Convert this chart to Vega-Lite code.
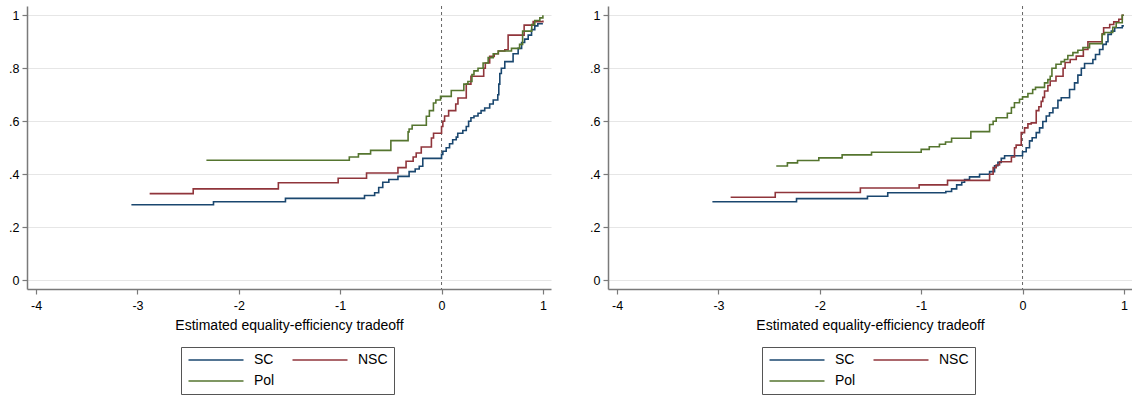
{
  "$schema": "https://vega.github.io/schema/vega-lite/v6.json",
  "padding": {"left": 8, "top": 5, "right": 0, "bottom": 0},
  "background": "white",
  "datasets": {
    "cdf": [
      {"panel": "A", "group": "SC", "x": -3.06, "y": 0.285},
      {"panel": "A", "group": "SC", "x": -2.25, "y": 0.296},
      {"panel": "A", "group": "SC", "x": -1.54, "y": 0.309},
      {"panel": "A", "group": "SC", "x": -0.76, "y": 0.32},
      {"panel": "A", "group": "SC", "x": -0.66, "y": 0.33},
      {"panel": "A", "group": "SC", "x": -0.62, "y": 0.35},
      {"panel": "A", "group": "SC", "x": -0.58, "y": 0.37},
      {"panel": "A", "group": "SC", "x": -0.52, "y": 0.38},
      {"panel": "A", "group": "SC", "x": -0.43, "y": 0.392},
      {"panel": "A", "group": "SC", "x": -0.32, "y": 0.41},
      {"panel": "A", "group": "SC", "x": -0.26, "y": 0.42},
      {"panel": "A", "group": "SC", "x": -0.22, "y": 0.43},
      {"panel": "A", "group": "SC", "x": -0.185, "y": 0.46},
      {"panel": "A", "group": "SC", "x": 0.0, "y": 0.475},
      {"panel": "A", "group": "SC", "x": 0.013, "y": 0.487},
      {"panel": "A", "group": "SC", "x": 0.046, "y": 0.5},
      {"panel": "A", "group": "SC", "x": 0.079, "y": 0.515},
      {"panel": "A", "group": "SC", "x": 0.11, "y": 0.53},
      {"panel": "A", "group": "SC", "x": 0.145, "y": 0.54},
      {"panel": "A", "group": "SC", "x": 0.16, "y": 0.555},
      {"panel": "A", "group": "SC", "x": 0.21, "y": 0.565},
      {"panel": "A", "group": "SC", "x": 0.244, "y": 0.58},
      {"panel": "A", "group": "SC", "x": 0.267, "y": 0.6},
      {"panel": "A", "group": "SC", "x": 0.29, "y": 0.613},
      {"panel": "A", "group": "SC", "x": 0.32, "y": 0.62},
      {"panel": "A", "group": "SC", "x": 0.36, "y": 0.63},
      {"panel": "A", "group": "SC", "x": 0.39, "y": 0.64},
      {"panel": "A", "group": "SC", "x": 0.426, "y": 0.65},
      {"panel": "A", "group": "SC", "x": 0.475, "y": 0.665},
      {"panel": "A", "group": "SC", "x": 0.51, "y": 0.68},
      {"panel": "A", "group": "SC", "x": 0.555, "y": 0.7},
      {"panel": "A", "group": "SC", "x": 0.565, "y": 0.74},
      {"panel": "A", "group": "SC", "x": 0.575, "y": 0.78},
      {"panel": "A", "group": "SC", "x": 0.59, "y": 0.8},
      {"panel": "A", "group": "SC", "x": 0.624, "y": 0.825},
      {"panel": "A", "group": "SC", "x": 0.706, "y": 0.855},
      {"panel": "A", "group": "SC", "x": 0.756, "y": 0.875},
      {"panel": "A", "group": "SC", "x": 0.79, "y": 0.897},
      {"panel": "A", "group": "SC", "x": 0.82, "y": 0.91},
      {"panel": "A", "group": "SC", "x": 0.855, "y": 0.925},
      {"panel": "A", "group": "SC", "x": 0.888, "y": 0.946},
      {"panel": "A", "group": "SC", "x": 0.92, "y": 0.96},
      {"panel": "A", "group": "SC", "x": 0.95, "y": 0.968},
      {"panel": "A", "group": "SC", "x": 1.0, "y": 0.968},

      {"panel": "A", "group": "NSC", "x": -2.88, "y": 0.327},
      {"panel": "A", "group": "NSC", "x": -2.45, "y": 0.345},
      {"panel": "A", "group": "NSC", "x": -1.61, "y": 0.368},
      {"panel": "A", "group": "NSC", "x": -1.02, "y": 0.385},
      {"panel": "A", "group": "NSC", "x": -0.74, "y": 0.405},
      {"panel": "A", "group": "NSC", "x": -0.43, "y": 0.425},
      {"panel": "A", "group": "NSC", "x": -0.35, "y": 0.449},
      {"panel": "A", "group": "NSC", "x": -0.28, "y": 0.465},
      {"panel": "A", "group": "NSC", "x": -0.25, "y": 0.48},
      {"panel": "A", "group": "NSC", "x": -0.2, "y": 0.503},
      {"panel": "A", "group": "NSC", "x": -0.1, "y": 0.537},
      {"panel": "A", "group": "NSC", "x": -0.079, "y": 0.555},
      {"panel": "A", "group": "NSC", "x": 0.0, "y": 0.58},
      {"panel": "A", "group": "NSC", "x": 0.013, "y": 0.6},
      {"panel": "A", "group": "NSC", "x": 0.03, "y": 0.62},
      {"panel": "A", "group": "NSC", "x": 0.07, "y": 0.64},
      {"panel": "A", "group": "NSC", "x": 0.14, "y": 0.665},
      {"panel": "A", "group": "NSC", "x": 0.162, "y": 0.688},
      {"panel": "A", "group": "NSC", "x": 0.244, "y": 0.74},
      {"panel": "A", "group": "NSC", "x": 0.29, "y": 0.77},
      {"panel": "A", "group": "NSC", "x": 0.416, "y": 0.8},
      {"panel": "A", "group": "NSC", "x": 0.432, "y": 0.82},
      {"panel": "A", "group": "NSC", "x": 0.475, "y": 0.845},
      {"panel": "A", "group": "NSC", "x": 0.52, "y": 0.855},
      {"panel": "A", "group": "NSC", "x": 0.56, "y": 0.865},
      {"panel": "A", "group": "NSC", "x": 0.624, "y": 0.87},
      {"panel": "A", "group": "NSC", "x": 0.657, "y": 0.925},
      {"panel": "A", "group": "NSC", "x": 0.815, "y": 0.963},
      {"panel": "A", "group": "NSC", "x": 0.904, "y": 0.976},
      {"panel": "A", "group": "NSC", "x": 1.0, "y": 0.98},

      {"panel": "A", "group": "Pol", "x": -2.32, "y": 0.453},
      {"panel": "A", "group": "Pol", "x": -0.91, "y": 0.465},
      {"panel": "A", "group": "Pol", "x": -0.82, "y": 0.477},
      {"panel": "A", "group": "Pol", "x": -0.7, "y": 0.49},
      {"panel": "A", "group": "Pol", "x": -0.5, "y": 0.527},
      {"panel": "A", "group": "Pol", "x": -0.33, "y": 0.56},
      {"panel": "A", "group": "Pol", "x": -0.32, "y": 0.571},
      {"panel": "A", "group": "Pol", "x": -0.29, "y": 0.585},
      {"panel": "A", "group": "Pol", "x": -0.15, "y": 0.619},
      {"panel": "A", "group": "Pol", "x": -0.12, "y": 0.64},
      {"panel": "A", "group": "Pol", "x": -0.08, "y": 0.669},
      {"panel": "A", "group": "Pol", "x": -0.056, "y": 0.68},
      {"panel": "A", "group": "Pol", "x": -0.01, "y": 0.694},
      {"panel": "A", "group": "Pol", "x": 0.096, "y": 0.716},
      {"panel": "A", "group": "Pol", "x": 0.22, "y": 0.74},
      {"panel": "A", "group": "Pol", "x": 0.26, "y": 0.75},
      {"panel": "A", "group": "Pol", "x": 0.3, "y": 0.776},
      {"panel": "A", "group": "Pol", "x": 0.32, "y": 0.79},
      {"panel": "A", "group": "Pol", "x": 0.36, "y": 0.8},
      {"panel": "A", "group": "Pol", "x": 0.41, "y": 0.82},
      {"panel": "A", "group": "Pol", "x": 0.46, "y": 0.84},
      {"panel": "A", "group": "Pol", "x": 0.51, "y": 0.855},
      {"panel": "A", "group": "Pol", "x": 0.56, "y": 0.865},
      {"panel": "A", "group": "Pol", "x": 0.69, "y": 0.875},
      {"panel": "A", "group": "Pol", "x": 0.77, "y": 0.89},
      {"panel": "A", "group": "Pol", "x": 0.8, "y": 0.94},
      {"panel": "A", "group": "Pol", "x": 0.89, "y": 0.965},
      {"panel": "A", "group": "Pol", "x": 0.92, "y": 0.98},
      {"panel": "A", "group": "Pol", "x": 0.97, "y": 0.99},
      {"panel": "A", "group": "Pol", "x": 1.0, "y": 1.0},

      {"panel": "B", "group": "SC", "x": -3.06, "y": 0.296},
      {"panel": "B", "group": "SC", "x": -2.23, "y": 0.308},
      {"panel": "B", "group": "SC", "x": -1.53, "y": 0.317},
      {"panel": "B", "group": "SC", "x": -1.33, "y": 0.33},
      {"panel": "B", "group": "SC", "x": -0.757, "y": 0.335},
      {"panel": "B", "group": "SC", "x": -0.7, "y": 0.345},
      {"panel": "B", "group": "SC", "x": -0.65, "y": 0.36},
      {"panel": "B", "group": "SC", "x": -0.6, "y": 0.37},
      {"panel": "B", "group": "SC", "x": -0.572, "y": 0.38},
      {"panel": "B", "group": "SC", "x": -0.523, "y": 0.39},
      {"panel": "B", "group": "SC", "x": -0.424, "y": 0.4},
      {"panel": "B", "group": "SC", "x": -0.325, "y": 0.41},
      {"panel": "B", "group": "SC", "x": -0.276, "y": 0.432},
      {"panel": "B", "group": "SC", "x": -0.243, "y": 0.445},
      {"panel": "B", "group": "SC", "x": -0.21, "y": 0.46},
      {"panel": "B", "group": "SC", "x": -0.177, "y": 0.47},
      {"panel": "B", "group": "SC", "x": 0.0, "y": 0.485},
      {"panel": "B", "group": "SC", "x": 0.036, "y": 0.5},
      {"panel": "B", "group": "SC", "x": 0.069, "y": 0.526},
      {"panel": "B", "group": "SC", "x": 0.095, "y": 0.538},
      {"panel": "B", "group": "SC", "x": 0.135, "y": 0.557},
      {"panel": "B", "group": "SC", "x": 0.168, "y": 0.575},
      {"panel": "B", "group": "SC", "x": 0.2, "y": 0.599},
      {"panel": "B", "group": "SC", "x": 0.234, "y": 0.62},
      {"panel": "B", "group": "SC", "x": 0.266, "y": 0.632},
      {"panel": "B", "group": "SC", "x": 0.3, "y": 0.65},
      {"panel": "B", "group": "SC", "x": 0.349, "y": 0.679},
      {"panel": "B", "group": "SC", "x": 0.382, "y": 0.689},
      {"panel": "B", "group": "SC", "x": 0.464, "y": 0.72},
      {"panel": "B", "group": "SC", "x": 0.513, "y": 0.745},
      {"panel": "B", "group": "SC", "x": 0.546, "y": 0.774},
      {"panel": "B", "group": "SC", "x": 0.58, "y": 0.8},
      {"panel": "B", "group": "SC", "x": 0.612, "y": 0.818},
      {"panel": "B", "group": "SC", "x": 0.694, "y": 0.833},
      {"panel": "B", "group": "SC", "x": 0.72, "y": 0.852},
      {"panel": "B", "group": "SC", "x": 0.76, "y": 0.871},
      {"panel": "B", "group": "SC", "x": 0.793, "y": 0.89},
      {"panel": "B", "group": "SC", "x": 0.826, "y": 0.9},
      {"panel": "B", "group": "SC", "x": 0.843, "y": 0.928},
      {"panel": "B", "group": "SC", "x": 0.876, "y": 0.94},
      {"panel": "B", "group": "SC", "x": 0.909, "y": 0.953},
      {"panel": "B", "group": "SC", "x": 0.984, "y": 0.96},
      {"panel": "B", "group": "SC", "x": 1.0, "y": 0.96},

      {"panel": "B", "group": "NSC", "x": -2.88, "y": 0.313},
      {"panel": "B", "group": "NSC", "x": -2.44, "y": 0.331},
      {"panel": "B", "group": "NSC", "x": -1.6, "y": 0.348},
      {"panel": "B", "group": "NSC", "x": -1.02, "y": 0.36},
      {"panel": "B", "group": "NSC", "x": -0.74, "y": 0.377},
      {"panel": "B", "group": "NSC", "x": -0.325, "y": 0.4},
      {"panel": "B", "group": "NSC", "x": -0.29, "y": 0.425},
      {"panel": "B", "group": "NSC", "x": -0.26, "y": 0.435},
      {"panel": "B", "group": "NSC", "x": -0.227, "y": 0.447},
      {"panel": "B", "group": "NSC", "x": -0.11, "y": 0.465},
      {"panel": "B", "group": "NSC", "x": -0.079, "y": 0.5},
      {"panel": "B", "group": "NSC", "x": -0.063, "y": 0.51},
      {"panel": "B", "group": "NSC", "x": -0.013, "y": 0.557},
      {"panel": "B", "group": "NSC", "x": 0.02, "y": 0.575},
      {"panel": "B", "group": "NSC", "x": 0.053, "y": 0.59},
      {"panel": "B", "group": "NSC", "x": 0.086, "y": 0.594},
      {"panel": "B", "group": "NSC", "x": 0.135, "y": 0.64},
      {"panel": "B", "group": "NSC", "x": 0.161, "y": 0.655},
      {"panel": "B", "group": "NSC", "x": 0.184, "y": 0.675},
      {"panel": "B", "group": "NSC", "x": 0.2, "y": 0.69},
      {"panel": "B", "group": "NSC", "x": 0.217, "y": 0.714},
      {"panel": "B", "group": "NSC", "x": 0.25, "y": 0.735},
      {"panel": "B", "group": "NSC", "x": 0.273, "y": 0.752},
      {"panel": "B", "group": "NSC", "x": 0.33, "y": 0.77},
      {"panel": "B", "group": "NSC", "x": 0.4, "y": 0.8},
      {"panel": "B", "group": "NSC", "x": 0.42, "y": 0.822},
      {"panel": "B", "group": "NSC", "x": 0.47, "y": 0.833},
      {"panel": "B", "group": "NSC", "x": 0.53, "y": 0.846},
      {"panel": "B", "group": "NSC", "x": 0.6, "y": 0.871},
      {"panel": "B", "group": "NSC", "x": 0.645, "y": 0.9},
      {"panel": "B", "group": "NSC", "x": 0.786, "y": 0.93},
      {"panel": "B", "group": "NSC", "x": 0.8, "y": 0.953},
      {"panel": "B", "group": "NSC", "x": 0.86, "y": 0.965},
      {"panel": "B", "group": "NSC", "x": 0.9, "y": 0.975},
      {"panel": "B", "group": "NSC", "x": 0.95, "y": 0.985},
      {"panel": "B", "group": "NSC", "x": 0.984, "y": 1.0},
      {"panel": "B", "group": "NSC", "x": 1.0, "y": 1.0},

      {"panel": "B", "group": "Pol", "x": -2.43, "y": 0.431},
      {"panel": "B", "group": "Pol", "x": -2.32, "y": 0.443},
      {"panel": "B", "group": "Pol", "x": -2.22, "y": 0.452},
      {"panel": "B", "group": "Pol", "x": -2.01, "y": 0.462},
      {"panel": "B", "group": "Pol", "x": -1.78, "y": 0.473},
      {"panel": "B", "group": "Pol", "x": -1.49, "y": 0.483},
      {"panel": "B", "group": "Pol", "x": -1.0, "y": 0.494},
      {"panel": "B", "group": "Pol", "x": -0.92, "y": 0.504},
      {"panel": "B", "group": "Pol", "x": -0.82, "y": 0.513},
      {"panel": "B", "group": "Pol", "x": -0.76, "y": 0.522},
      {"panel": "B", "group": "Pol", "x": -0.7, "y": 0.536},
      {"panel": "B", "group": "Pol", "x": -0.51, "y": 0.561},
      {"panel": "B", "group": "Pol", "x": -0.325, "y": 0.588},
      {"panel": "B", "group": "Pol", "x": -0.29, "y": 0.6},
      {"panel": "B", "group": "Pol", "x": -0.26, "y": 0.613},
      {"panel": "B", "group": "Pol", "x": -0.15, "y": 0.63},
      {"panel": "B", "group": "Pol", "x": -0.11, "y": 0.652},
      {"panel": "B", "group": "Pol", "x": -0.08, "y": 0.67},
      {"panel": "B", "group": "Pol", "x": -0.03, "y": 0.683},
      {"panel": "B", "group": "Pol", "x": 0.0, "y": 0.692},
      {"panel": "B", "group": "Pol", "x": 0.053, "y": 0.705},
      {"panel": "B", "group": "Pol", "x": 0.1, "y": 0.72},
      {"panel": "B", "group": "Pol", "x": 0.128, "y": 0.728},
      {"panel": "B", "group": "Pol", "x": 0.217, "y": 0.745},
      {"panel": "B", "group": "Pol", "x": 0.25, "y": 0.757},
      {"panel": "B", "group": "Pol", "x": 0.273, "y": 0.77},
      {"panel": "B", "group": "Pol", "x": 0.29, "y": 0.8},
      {"panel": "B", "group": "Pol", "x": 0.33, "y": 0.815},
      {"panel": "B", "group": "Pol", "x": 0.38, "y": 0.825},
      {"panel": "B", "group": "Pol", "x": 0.414, "y": 0.833},
      {"panel": "B", "group": "Pol", "x": 0.447, "y": 0.848},
      {"panel": "B", "group": "Pol", "x": 0.497, "y": 0.859},
      {"panel": "B", "group": "Pol", "x": 0.546, "y": 0.868},
      {"panel": "B", "group": "Pol", "x": 0.596, "y": 0.878},
      {"panel": "B", "group": "Pol", "x": 0.661, "y": 0.893},
      {"panel": "B", "group": "Pol", "x": 0.786, "y": 0.928},
      {"panel": "B", "group": "Pol", "x": 0.81, "y": 0.935},
      {"panel": "B", "group": "Pol", "x": 0.89, "y": 0.955},
      {"panel": "B", "group": "Pol", "x": 0.924, "y": 0.972},
      {"panel": "B", "group": "Pol", "x": 0.984, "y": 1.0},
      {"panel": "B", "group": "Pol", "x": 1.0, "y": 1.0}
    ],
    "zero": [{"x0": 0}]
  },
  "config": {
    "font": "Liberation Sans",
    "view": {"stroke": null},
    "axis": {
      "labelFont": "Liberation Sans",
      "titleFont": "Liberation Sans",
      "labelColor": "#000000",
      "titleColor": "#000000",
      "labelFontSize": 12.5,
      "titleFontSize": 14,
      "titleFontWeight": "normal",
      "domainColor": "#7a7a7a",
      "domainWidth": 1.5,
      "tickColor": "#7a7a7a",
      "tickWidth": 1.2,
      "tickSize": 5
    },
    "legend": {
      "labelFont": "Liberation Sans",
      "labelFontSize": 14,
      "labelColor": "#000000"
    }
  },
  "resolve": {"legend": {"color": "independent"}},
  "spacing": 38,
  "hconcat": [
    {
      "width": 524,
      "height": 283,
      "layer": [
        {
          "data": {"name": "zero"},
          "mark": {"type": "rule", "color": "#666666", "strokeWidth": 1, "strokeDash": [3, 3]},
          "encoding": {
            "x": {"field": "x0", "type": "quantitative", "scale": {"domain": [-4.09, 1.08], "nice": false, "zero": false}}
          }
        },
        {
          "data": {"name": "cdf"},
          "transform": [{"filter": "datum.panel === 'A'"}],
          "mark": {"type": "line", "interpolate": "step-after", "strokeWidth": 1.6},
          "encoding": {
            "x": {
              "field": "x", "type": "quantitative",
              "scale": {"domain": [-4.09, 1.08], "nice": false, "zero": false},
              "axis": {"values": [-4, -3, -2, -1, 0, 1], "labelExpr": "'' + datum.value", "grid": false, "labelPadding": 5, "titlePadding": 7, "title": "Estimated equality-efficiency tradeoff"}
            },
            "y": {
              "field": "y", "type": "quantitative",
              "scale": {"domain": [-0.033, 1.035], "nice": false, "zero": false},
              "axis": {"values": [0, 0.2, 0.4, 0.6, 0.8, 1], "labelExpr": "datum.value == 0 ? '0' : datum.value >= 1 ? '1' : '.' + format(datum.value * 10, 'd')", "grid": true, "gridColor": "#e6e6e6", "gridWidth": 1.2, "labelPadding": 3, "title": null}
            },
            "color": {
              "field": "group", "type": "nominal",
              "scale": {"domain": ["SC", "NSC", "Pol"], "range": ["#1a476f", "#90353b", "#55752f"]},
              "legend": {
                "title": null, "orient": "none", "legendX": 154, "legendY": 341, "direction": "horizontal",
                "columns": 2, "symbolType": "M-1,0H9", "symbolSize": 121, "symbolStrokeWidth": 1.5,
                "strokeColor": "#555555", "padding": 6, "rowPadding": 7, "columnPadding": 14, "labelOffset": 53
              }
            },
            "order": {"field": "x", "type": "quantitative"}
          }
        }
      ]
    },
    {
      "width": 524,
      "height": 283,
      "layer": [
        {
          "data": {"name": "zero"},
          "mark": {"type": "rule", "color": "#666666", "strokeWidth": 1, "strokeDash": [3, 3]},
          "encoding": {
            "x": {"field": "x0", "type": "quantitative", "scale": {"domain": [-4.09, 1.08], "nice": false, "zero": false}}
          }
        },
        {
          "data": {"name": "cdf"},
          "transform": [{"filter": "datum.panel === 'B'"}],
          "mark": {"type": "line", "interpolate": "step-after", "strokeWidth": 1.6},
          "encoding": {
            "x": {
              "field": "x", "type": "quantitative",
              "scale": {"domain": [-4.09, 1.08], "nice": false, "zero": false},
              "axis": {"values": [-4, -3, -2, -1, 0, 1], "labelExpr": "'' + datum.value", "grid": false, "labelPadding": 5, "titlePadding": 7, "title": "Estimated equality-efficiency tradeoff"}
            },
            "y": {
              "field": "y", "type": "quantitative",
              "scale": {"domain": [-0.033, 1.035], "nice": false, "zero": false},
              "axis": {"values": [0, 0.2, 0.4, 0.6, 0.8, 1], "labelExpr": "datum.value == 0 ? '0' : datum.value >= 1 ? '1' : '.' + format(datum.value * 10, 'd')", "grid": true, "gridColor": "#e6e6e6", "gridWidth": 1.2, "labelPadding": 3, "title": null}
            },
            "color": {
              "field": "group", "type": "nominal",
              "scale": {"domain": ["SC", "NSC", "Pol"], "range": ["#1a476f", "#90353b", "#55752f"]},
              "legend": {
                "title": null, "orient": "none", "legendX": 154, "legendY": 341, "direction": "horizontal",
                "columns": 2, "symbolType": "M-1,0H9", "symbolSize": 121, "symbolStrokeWidth": 1.5,
                "strokeColor": "#555555", "padding": 6, "rowPadding": 7, "columnPadding": 14, "labelOffset": 53
              }
            },
            "order": {"field": "x", "type": "quantitative"}
          }
        }
      ]
    }
  ]
}
